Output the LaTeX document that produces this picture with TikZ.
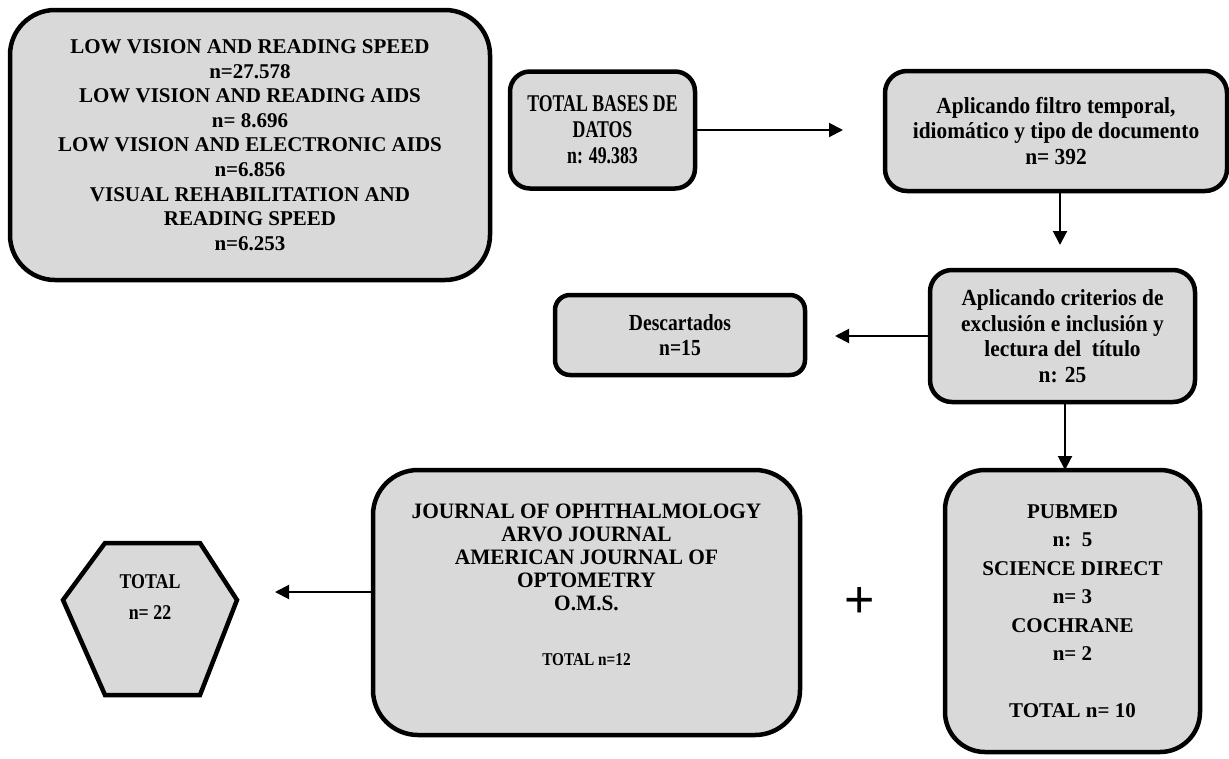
\documentclass[tikz,border=0pt]{standalone}
\usepackage{fontspec}
\setmainfont{Liberation Serif}
\newfontfamily\condf[FakeStretch=0.85]{Liberation Serif}
\newfontfamily\condb[FakeStretch=0.74]{Liberation Serif}
\newfontfamily\condc[FakeStretch=0.93]{Liberation Serif}
\newfontfamily\condd[FakeStretch=0.97]{Liberation Serif}
\setsansfont{Liberation Sans}
\usetikzlibrary{arrows.meta}
\definecolor{boxgray}{HTML}{D9D9D9}
\begin{document}
\begin{tikzpicture}[x=1pt,y=-1pt,
  box/.style={draw=black, line width=4.5pt, fill=boxgray, rounded corners=#1, inner sep=0pt, align=center},
  box/.default=20pt,
  wide/.style={font=\fontsize{21}{24.6}\selectfont\bfseries},
  cond/.style={font=\condf\fontsize{23}{25.5}\selectfont\bfseries},
  txt/.style={align=center, inner sep=0pt},
  arr/.style={line width=2pt, -{Triangle[length=14pt,width=14pt]}}]
\useasboundingbox (0,0) rectangle (1229,758);

% boxes
\node[box=45pt, wide, minimum width=480pt, minimum height=270pt] (b1) at (250,145)
  {LOW VISION AND READING SPEED\\n=27.578\\LOW VISION AND READING AIDS\\n= 8.696\\LOW VISION AND ELECTRONIC AIDS\\n=6.856\\VISUAL REHABILITATION AND\\READING SPEED\\n=6.253};

\node[box=20pt, font=\condb\fontsize{24}{26}\selectfont\bfseries, minimum width=185pt, minimum height=117pt] (b2) at (602.5,130)
  {TOTAL BASES DE\\DATOS\\n: 49.383};

\node[box=22pt, font=\condc\fontsize{23}{25.5}\selectfont\bfseries, minimum width=342pt, minimum height=120pt] (b3) at (1056,131)
  {Aplicando filtro temporal,\\idiomático y tipo de documento\\n= 392};

\node[box=22pt, font=\condc\fontsize{23}{25.5}\selectfont\bfseries, minimum width=265pt, minimum height=132pt] (b4) at (1062.5,336)
  {Aplicando criterios de\\exclusión e inclusión y\\lectura del\ \ título\\n: 25};

\node[box=15pt, cond, minimum width=250pt, minimum height=80pt] (b5) at (680,335)
  {Descartados\\n=15};

\node[box=40pt, font=\fontsize{21}{28.5}\selectfont\bfseries, minimum width=255pt, minimum height=282pt] (b6) at (1072.5,611)
  {PUBMED\\n:\ \ 5\\SCIENCE DIRECT\\n= 3\\COCHRANE\\n= 2\\[28.5pt]TOTAL n= 10};

\node[box=45pt, minimum width=427pt, minimum height=265pt] (b7) at (586.5,602.5) {};
\node[txt, font=\condd\fontsize{22}{23}\selectfont\bfseries] (b7t) at (586.5,557)
  {JOURNAL OF OPHTHALMOLOGY\\ARVO JOURNAL\\AMERICAN JOURNAL OF\\OPTOMETRY\\O.M.S.};
\node[txt, font=\condf\fontsize{18}{20}\selectfont\bfseries] (b7s) at (586.5,660) {TOTAL n=12};

% hexagon
\draw[line width=4.5pt, fill=boxgray, line join=miter]
  (63,600) -- (105,543) -- (200,543) -- (237,600) -- (200,695) -- (105,695) -- cycle;
\node[txt, font=\condf\fontsize{21}{31}\selectfont\bfseries] (hex) at (150,597) {TOTAL\\n= 22};

% plus sign
\node[txt, font=\sffamily\fontsize{52}{52}\selectfont] (plus) at (860,602) {+};

% connectors
\coordinate (e1) at (843,130);
\coordinate (e2) at (1060,245);
\coordinate (e3) at (835,336);
\coordinate (e4) at (1065,470);
\coordinate (e5) at (275,592);
\draw[arr] (b2.east) -- (e1);
\draw[arr] (e2 |- b3.south) -- (e2);
\draw[arr] (e3 -| b4.west) -- (e3);
\draw[arr] (e4 |- b4.south) -- (e4);
\draw[arr] (e5 -| b7.west) -- (e5);
\end{tikzpicture}
\end{document}
